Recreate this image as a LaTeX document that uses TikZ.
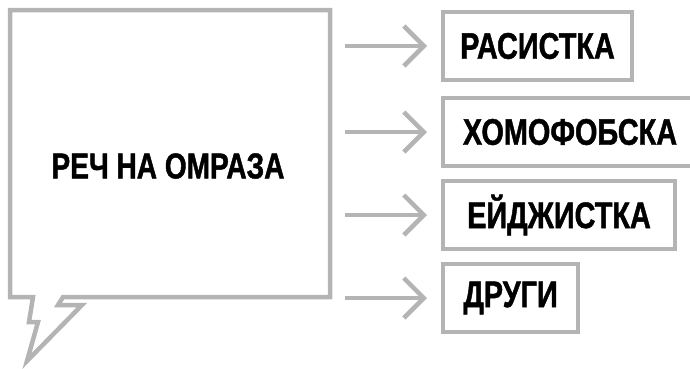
\documentclass[tikz,border=0pt]{standalone}
\usepackage{fontspec}
\usepackage{xcolor}
\usepackage{tikz}
\usetikzlibrary{arrows.meta,calc}
\newfontfamily\labelfont{Liberation Sans}[FakeStretch=0.78,FakeBold=1.2]
\definecolor{linegray}{RGB}{180,180,180}

\begin{document}
\begin{tikzpicture}[x=1pt,y=-1pt,%
% common options for the boxes:
tagbox/.style = {draw=linegray, line width=4.5pt, outer sep=0pt, inner sep=0pt,
            anchor=west, minimum height=68pt,
            font=\labelfont\bfseries\fontsize{37}{40}\selectfont},
% common options for the arrows:
flow/.style = {draw=linegray, line width=4.5pt,
            -{Straight Barb[sharp,length=20pt,width=40pt]},
            shorten <=15pt, shorten >=16pt}]
\useasboundingbox (0,0) rectangle (690,368);
% speech bubble
\node[rectangle, outer sep=0pt, minimum width=320pt, minimum height=287pt] (bubble) at (170,153.5) {};
\draw[linegray, line width=4.5pt, line join=miter]
  ($(bubble.south west)+(53,0)$) -- (bubble.south east) -- (bubble.north east)
  -- (bubble.north west) -- (bubble.south west) -- ++(23,0) -- ++(-4,25)
  -- ++(9,0) -- ++(-11,39) -- ++(55,-56) -- ++(-24,0) -- cycle;
\node[font=\labelfont\bfseries\fontsize{36}{40}\selectfont] (title) at (168,166) {РЕЧ НА ОМРАЗА};
% targets
\node[tagbox, minimum width=189pt] (racist) at (443,46) {РАСИСТКА};
\node[tagbox, minimum width=254pt] (homophob) at (443,132) {ХОМОФОБСКА};
\node[tagbox, minimum width=232pt] (ageist) at (443,215) {ЕЙДЖИСТКА};
\node[tagbox, minimum width=135pt] (other) at (443,298) {ДРУГИ};
\draw[flow] (bubble.east |- racist.west) to (racist.west);
\draw[flow] (bubble.east |- homophob.west) to (homophob.west);
\draw[flow] (bubble.east |- ageist.west) to (ageist.west);
\draw[flow] (bubble.east |- other.west) to (other.west);
\end{tikzpicture}
\end{document}
